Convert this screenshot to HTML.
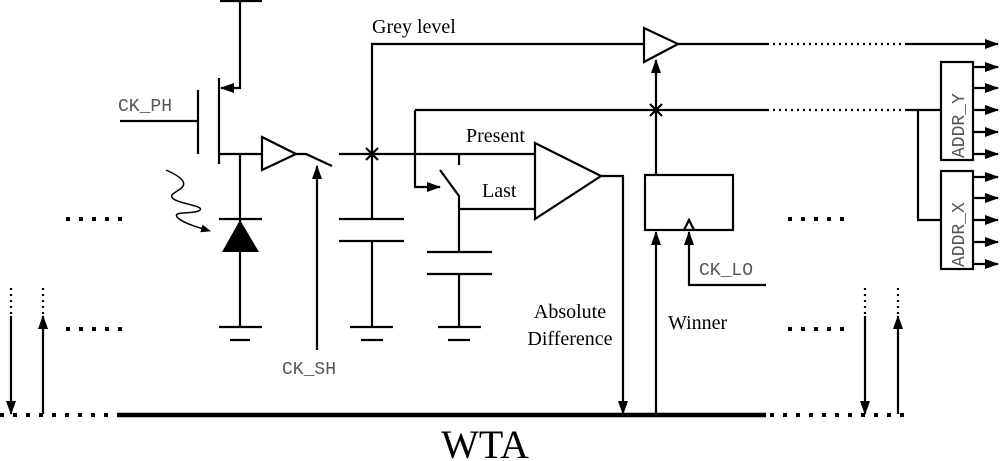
<!DOCTYPE html>
<html><head><meta charset="utf-8"><style>
html,body{margin:0;padding:0;background:#fff;}
svg{display:block;}
.s{font-family:"Liberation Serif",serif;font-size:20px;fill:#000;}
.m{font-family:"Liberation Mono",monospace;font-size:18px;fill:#555;}
</style></head><body>
<svg width="1000" height="461" viewBox="0 0 1000 461" xmlns="http://www.w3.org/2000/svg">
<defs>
<marker id="a" markerWidth="10" markerHeight="8" refX="9" refY="4" orient="auto" markerUnits="userSpaceOnUse"><path d="M0,0 L10,4 L0,8 z" fill="#000"/></marker>
<marker id="b" markerWidth="14" markerHeight="10" refX="13" refY="5" orient="auto" markerUnits="userSpaceOnUse"><path d="M0,0 L14,5 L0,10 z" fill="#000"/></marker>
</defs>
<g stroke="#000" stroke-width="2.2" fill="none">
<line x1="220" y1="1" x2="262" y2="1"/>
<path d="M240,1 V88 H221" marker-end="url(#b)"/>
<line x1="219" y1="78" x2="219" y2="164"/>
<line x1="198" y1="90" x2="198" y2="154"/>
<line x1="120" y1="121" x2="198" y2="121"/>
<line x1="219" y1="154" x2="262" y2="154"/>
<line x1="240" y1="154" x2="240" y2="327"/>
<line x1="219" y1="219" x2="262" y2="219"/>
<line x1="219" y1="327" x2="262" y2="327"/>
<line x1="230" y1="340" x2="250" y2="340"/>
<path d="M262,137 L296,154 L262,170 z"/>
<path d="M296,154 H306 L332,166"/>
<line x1="317" y1="350" x2="317" y2="166" marker-end="url(#b)"/>
<line x1="339" y1="154" x2="535" y2="154"/>
<path d="M372,219 V44 H644"/>
<path d="M366,148 L378,160 M378,148 L366,160"/>
<line x1="339" y1="219" x2="404" y2="219"/>
<line x1="339" y1="241" x2="404" y2="241"/>
<line x1="372" y1="241" x2="372" y2="327"/>
<line x1="350" y1="327" x2="393" y2="327"/>
<line x1="361" y1="340" x2="383" y2="340"/>
<line x1="415" y1="110" x2="767" y2="110"/>
<path d="M415,110 V187 H440" marker-end="url(#b)"/>
<line x1="459" y1="154" x2="459" y2="165"/>
<path d="M440,170 L459,196 V252"/>
<line x1="459" y1="209" x2="535" y2="209"/>
<line x1="427" y1="252" x2="492" y2="252"/>
<line x1="427" y1="274" x2="492" y2="274"/>
<line x1="459" y1="274" x2="459" y2="327"/>
<line x1="438" y1="327" x2="481" y2="327"/>
<line x1="448" y1="340" x2="470" y2="340"/>
<path d="M535,143 L601,176 L535,219 z"/>
<path d="M601,176 H623 V414" marker-end="url(#b)"/>
<path d="M644,28 L678,44 L644,62 z"/>
<line x1="678" y1="44" x2="767" y2="44"/>
<line x1="767" y1="44" x2="907" y2="44" stroke-dasharray="2,4"/>
<line x1="907" y1="44" x2="998" y2="44" marker-end="url(#b)"/>
<line x1="656" y1="175" x2="656" y2="60" marker-end="url(#b)"/>
<path d="M650,104 L662,116 M662,104 L650,116"/>
<line x1="767" y1="110" x2="907" y2="110" stroke-dasharray="2,4"/>
<path d="M907,110 H941 M918,110 V220 H941"/>
<rect x="941" y="62" width="32" height="98"/>
<rect x="941" y="171" width="32" height="98"/>
<rect x="645" y="175" width="88" height="55"/>
<path d="M684,230 L689,220 L694,230"/>
<line x1="656" y1="414" x2="656" y2="232" marker-end="url(#b)"/>
<path d="M766,285 H689 V232" marker-end="url(#b)"/>
<line x1="117" y1="415" x2="766" y2="415" stroke-width="4.5"/>
<line x1="770" y1="415" x2="910" y2="415" stroke-width="4" stroke-dasharray="4,9"/>
<line x1="0" y1="415" x2="112" y2="415" stroke-width="4" stroke-dasharray="4,9"/>
<line x1="11" y1="316" x2="11" y2="414" marker-end="url(#b)"/>
<line x1="43" y1="414" x2="43" y2="316" marker-end="url(#b)"/>
<line x1="865" y1="316" x2="865" y2="414" marker-end="url(#b)"/>
<line x1="898" y1="414" x2="898" y2="316" marker-end="url(#b)"/>
<g stroke-dasharray="2,4">
<line x1="11" y1="288" x2="11" y2="314"/><line x1="43" y1="288" x2="43" y2="314"/>
<line x1="865" y1="288" x2="865" y2="314"/><line x1="898" y1="288" x2="898" y2="314"/>
</g>
<g stroke-width="4" stroke-dasharray="4,9">
<line x1="66" y1="219" x2="122" y2="219"/><line x1="66" y1="329" x2="122" y2="329"/>
<line x1="788" y1="219" x2="844" y2="219"/><line x1="788" y1="329" x2="844" y2="329"/>
</g>
<path d="M166,170 C200,185 175,190 172,195 C168,203 205,205 200,210 C195,215 170,210 178,218 C185,224 200,228 210,231" stroke-width="1.5" marker-end="url(#a)"/>
</g>
<path d="M222,252 L240,220 L259,252 z" fill="#000"/>
<g stroke="#000" stroke-width="2.2">
<line x1="973" y1="67" x2="998" y2="67" marker-end="url(#b)"/>
<line x1="973" y1="88" x2="998" y2="88" marker-end="url(#b)"/>
<line x1="973" y1="110" x2="998" y2="110" marker-end="url(#b)"/>
<line x1="973" y1="132" x2="998" y2="132" marker-end="url(#b)"/>
<line x1="973" y1="154" x2="998" y2="154" marker-end="url(#b)"/>
<line x1="973" y1="177" x2="998" y2="177" marker-end="url(#b)"/>
<line x1="973" y1="198" x2="998" y2="198" marker-end="url(#b)"/>
<line x1="973" y1="220" x2="998" y2="220" marker-end="url(#b)"/>
<line x1="973" y1="242" x2="998" y2="242" marker-end="url(#b)"/>
<line x1="973" y1="264" x2="998" y2="264" marker-end="url(#b)"/>
</g>
<text class="s" x="372" y="33">Grey level</text>
<text class="s" x="466" y="142">Present</text>
<text class="s" x="482" y="197">Last</text>
<text class="s" x="570" y="318" text-anchor="middle">Absolute</text>
<text class="s" x="570" y="345" text-anchor="middle">Difference</text>
<text class="s" x="668" y="329">Winner</text>
<text class="s" x="485" y="458" text-anchor="middle" style="font-size:40px">WTA</text>
<text class="m" x="118" y="111">CK_PH</text>
<text class="m" x="282" y="374">CK_SH</text>
<text class="m" x="699" y="275">CK_LO</text>
<text class="m" transform="translate(964,158) rotate(-90)">ADDR_Y</text>
<text class="m" transform="translate(964,267) rotate(-90)">ADDR_X</text>
</svg>
</body></html>
